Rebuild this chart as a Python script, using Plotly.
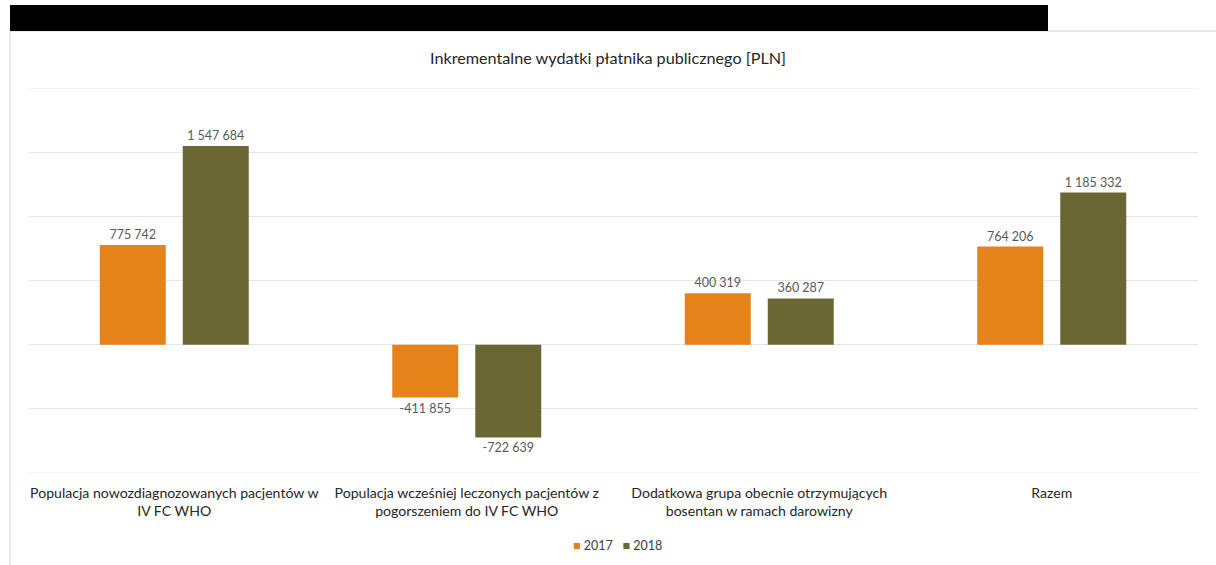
import plotly.graph_objects as go

# Budget impact by population group
categories = [
    "Populacja nowozdiagnozowanych pacjentów w<br>IV FC WHO",
    "Populacja wcześniej leczonych pacjentów z<br>pogorszeniem do IV FC WHO",
    "Dodatkowa grupa obecnie otrzymujących<br>bosentan w ramach darowizny",
    "Razem",
]
values_2017 = [775742, -411855, 400319, 764206]
values_2018 = [1547684, -722639, 360287, 1185332]
series_names = ["2017", "2018"]

Y_MIN, Y_MAX, Y_STEP = -1000000, 2000000, 500000

FONT = "Lato, Liberation Sans, Arial, sans-serif"
colors = ["#E5821A", "#6B6735"]
GRID = "#E6E6E6"


def fmt(v):
    return f"{v:,}".replace(",", " ")


fig = go.Figure()
for name, vals, col in zip(series_names, [values_2017, values_2018], colors):
    fig.add_trace(go.Bar(
        name=name,
        x=categories,
        y=vals,
        marker=dict(color=col, line=dict(width=0)),
        text=[fmt(v) for v in vals],
        textposition="outside",
        textfont=dict(family=FONT, size=12.5, color="#595959"),
        cliponaxis=False,
        showlegend=False,
    ))

W, H = 1216, 565
L, R, T, B = 28, 18, 88, 92
pw, ph = W - L - R, H - T - B


def px_x(x):
    return (x - L) / pw


def px_y(y):
    return (H - B - y) / ph


# compact legend line: coloured squares followed by series names
legend_text = "   ".join(
    f'<span style="color:{c}">■</span> {n}' for n, c in zip(series_names, colors)
)

# gridlines at the two ends of the value range
edge_grid = [
    dict(type="line", xref="paper", yref="y", x0=0, x1=1, y0=v, y1=v,
         line=dict(color=GRID, width=1), layer="below")
    for v in (Y_MIN, Y_MAX)
]

fig.update_layout(
    width=W, height=H,
    margin=dict(l=L, r=R, t=T, b=B),
    paper_bgcolor="white",
    plot_bgcolor="white",
    barmode="group",
    bargap=0.4325,
    bargroupgap=0.205,
    title=dict(
        text="Inkrementalne wydatki płatnika publicznego [PLN]",
        x=0.5, xanchor="center",
        y=1 - 58 / H, yanchor="middle",
        font=dict(family=FONT, size=16.2, color="#262626"),
    ),
    xaxis=dict(
        showgrid=False, showline=False, ticks="",
        ticklabelstandoff=10,
        tickfont=dict(family=FONT, size=14.1, color="#262626"),
    ),
    yaxis=dict(
        range=[Y_MIN, Y_MAX],
        dtick=Y_STEP,
        showgrid=True, gridcolor=GRID, gridwidth=1,
        zeroline=True, zerolinecolor=GRID, zerolinewidth=1,
        showticklabels=False, ticks="", showline=False,
    ),
    annotations=[
        dict(text=legend_text, xref="paper", yref="paper",
             x=px_x(617.5), xanchor="center", y=px_y(545), yanchor="middle",
             showarrow=False,
             font=dict(family=FONT, size=12.5, color="#404040")),
    ],
    shapes=edge_grid + [
        # outer frame (left and top edges)
        dict(type="line", xref="paper", yref="paper",
             x0=px_x(10), x1=px_x(10), y0=px_y(31), y1=px_y(566),
             line=dict(color="#D0D0D0", width=1)),
        dict(type="line", xref="paper", yref="paper",
             x0=px_x(10), x1=px_x(1217), y0=px_y(31), y1=px_y(31),
             line=dict(color="#D0D0D0", width=1)),
        # black header band
        dict(type="rect", xref="paper", yref="paper",
             x0=px_x(10), x1=px_x(1048), y0=px_y(31), y1=px_y(5),
             fillcolor="black", line=dict(width=0)),
    ],
)

fig.write_html("out.html")
